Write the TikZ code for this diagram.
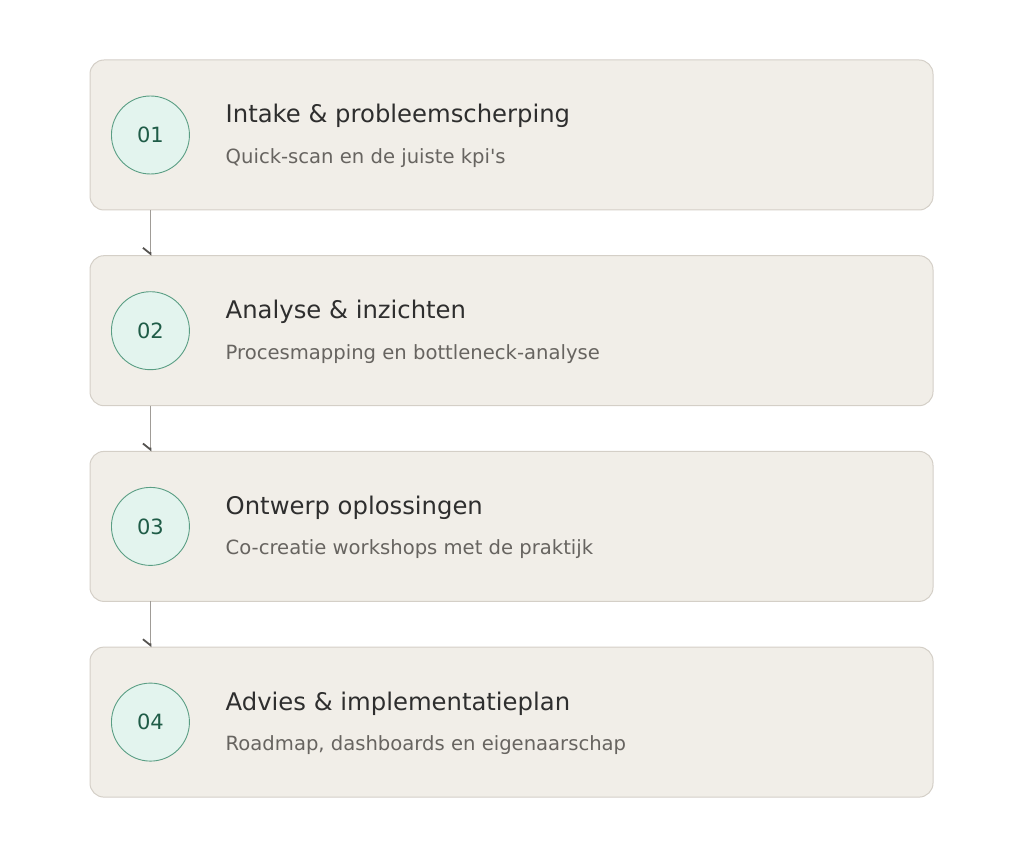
\documentclass[tikz,border=0pt]{standalone}
\usepackage{fontspec}
\setmainfont{DejaVu Sans}
\usepackage{tikz}
\usetikzlibrary{arrows.meta,positioning,calc}
\definecolor{vakvul}{HTML}{F1EEE8}
\definecolor{vakrand}{HTML}{D4CFC7}
\definecolor{bolvul}{HTML}{E3F4EE}
\definecolor{bolrand}{HTML}{5A9E84}
\definecolor{bolnr}{HTML}{1F5C47}
\definecolor{titelkl}{HTML}{2E2E2E}
\definecolor{subkl}{HTML}{676460}
\definecolor{lijnkl}{HTML}{A09C97}
\definecolor{pijlkl}{HTML}{555350}

\begin{document}
\begin{tikzpicture}[x=1pt, y=-1pt,
    vak/.style={draw=vakrand, fill=vakvul, line width=1pt, rounded corners=14pt,
        minimum width=843pt, minimum height=150pt, inner sep=0pt, outer sep=0pt},
    bol/.style={circle, draw=bolrand, fill=bolvul, line width=0.9pt,
        minimum size=78pt, inner sep=0pt, text=bolnr, font=\fontsize{21}{25}\selectfont},
    titel/.style={anchor=base west, inner sep=0pt, text=titelkl, font=\fontsize{24.3}{28}\selectfont},
    sub/.style={anchor=base west, inner sep=0pt, text=subkl, font=\fontsize{19.6}{23}\selectfont},
    verbind/.style={draw=lijnkl, line width=1.8pt,
        -{Straight Barb[right, length=6pt, width=15pt, color=pijlkl]}}]
    \useasboundingbox (0,0) rectangle (1024,858);
    %%Vakken
    \node[vak] (s1) at (511.5,135) {};
    \node[vak, below=45.7pt of s1] (s2) {};
    \node[vak, below=45.7pt of s2] (s3) {};
    \node[vak, below=45.7pt of s3] (s4) {};
    %%Nummers
    \node[bol, right=21pt of s1.west] (c1) {01};
    \node[bol, right=21pt of s2.west] (c2) {02};
    \node[bol, right=21pt of s3.west] (c3) {03};
    \node[bol, right=21pt of s4.west] (c4) {04};
    %%Teksten
    \node[titel] (t1) at (225.5,123) {Intake \& probleemscherping};
    \node[sub] (u1) at (225.5,163.5) {Quick-scan en de juiste kpi\textquotesingle s};
    \node[titel] (t2) at (225.5,318.7) {Analyse \& inzichten};
    \node[sub] (u2) at (225.5,359.2) {Procesmapping en bottleneck-analyse};
    \node[titel] (t3) at (225.5,514.3) {Ontwerp oplossingen};
    \node[sub] (u3) at (225.5,554.8) {Co-creatie workshops met de praktijk};
    \node[titel] (t4) at (225.5,710) {Advies \& implementatieplan};
    \node[sub] (u4) at (225.5,750.5) {Roadmap, dashboards en eigenaarschap};
    %%Pijlen
    \draw[verbind] (c1 |- s1.south) to (c2 |- s2.north);
    \draw[verbind] (c2 |- s2.south) to (c3 |- s3.north);
    \draw[verbind] (c3 |- s3.south) to (c4 |- s4.north);
\end{tikzpicture}
\end{document}
